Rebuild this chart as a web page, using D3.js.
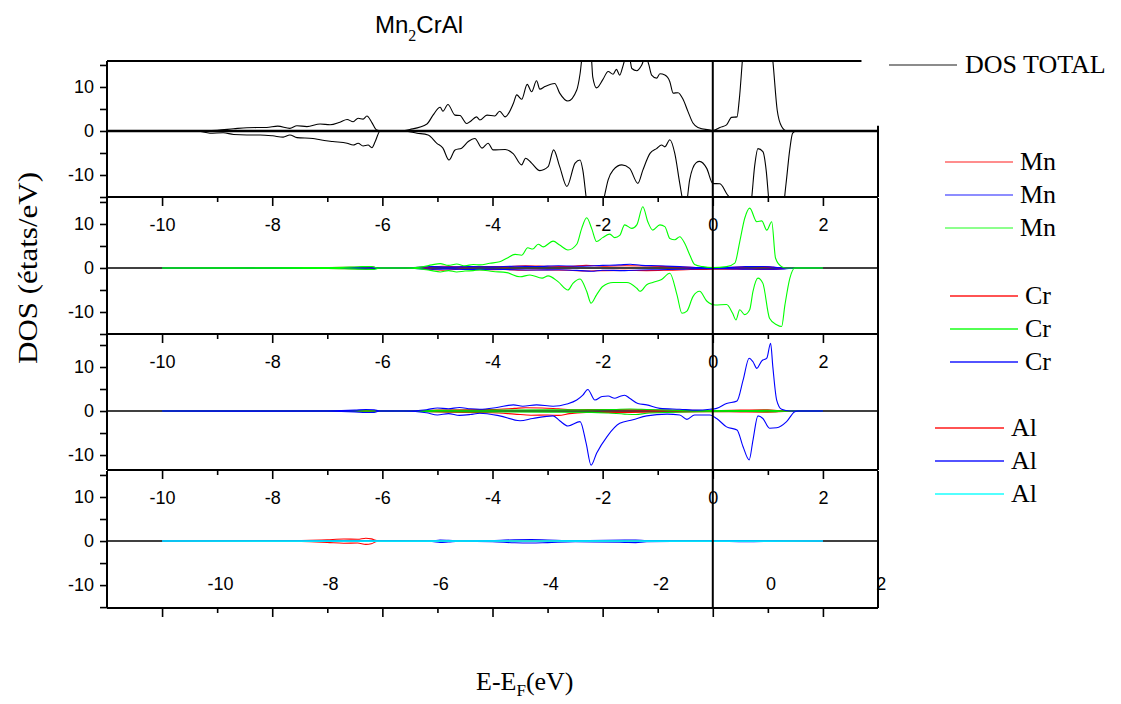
<!DOCTYPE html>
<html>
<head>
<meta charset="utf-8">
<script src="https://cdn.jsdelivr.net/npm/d3@7"></script>
<style>
  body { margin: 0; background: #fff; }
  svg { display: block; }
</style>
</head>
<body>
<svg id="chart" width="1121" height="704"></svg>
<script>
// ---- axis values ----
const energyLabels = [-10, -8, -6, -4, -2, 0, 2];
const energyMinor = [-9, -7, -5, -3, -1, 1];
const dosTicks = [-15, -10, -5, 0, 5, 10, 15];
const dosLabels = [-10, 0, 10];
// visible DOS window of each stacked frame (total, Mn, Cr, Al)
const dosWindows = [[-15, 15.9], [-15, 15.9], [-13.4, 17.5], [-15.2, 15.9]];

// ---- total DOS (spin up / spin down), [E - EF, states/eV] ----
const totalUp = [[-10,0],[-9.4,0],[-9.0,0.15],[-8.7,0.5],[-8.46,0.75],[-8.1,0.8],[-7.9,1.1],[-7.68,0.6],[-7.55,1.2],[-7.37,1.0],[-7.13,1.6],[-6.95,1.4],[-6.77,2.0],[-6.64,2.6],[-6.53,2.1],[-6.44,2.9],[-6.35,2.7],[-6.28,3.4],[-6.19,1.9],[-6.1,0.2],[-6.0,0],[-5.68,0],[-5.5,0.35],[-5.19,1.6],[-5.08,3.6],[-4.95,5.4],[-4.9,4.5],[-4.81,6.0],[-4.68,3.6],[-4.59,3.5],[-4.47,1.7],[-4.41,2.1],[-4.29,3.2],[-4.23,2.5],[-4.1,3.6],[-3.96,3.4],[-3.87,4.5],[-3.77,3.2],[-3.62,6.3],[-3.56,8.2],[-3.47,7.2],[-3.37,10.6],[-3.29,8.9],[-3.2,11.4],[-3.14,9.5],[-3.05,10.1],[-2.87,10.8],[-2.78,8.6],[-2.63,6.8],[-2.47,9.3],[-2.41,13],[-2.33,22],[-2.27,24],[-2.2,16],[-2.18,12.3],[-2.11,9.8],[-2.0,11.6],[-1.9,13.5],[-1.81,12.9],[-1.75,14.0],[-1.69,12.7],[-1.63,14.8],[-1.56,17.5],[-1.5,16],[-1.47,14.2],[-1.38,13.7],[-1.29,15],[-1.22,17],[-1.16,15],[-1.11,12.7],[-1.02,12.0],[-0.96,13],[-0.87,12.7],[-0.78,11.2],[-0.72,8.6],[-0.63,8.7],[-0.54,7.2],[-0.45,4.4],[-0.36,1.8],[-0.27,0.8],[-0.05,0.2],[0,0.1],[0.13,0.8],[0.25,1.4],[0.34,3.1],[0.44,3.2],[0.48,7],[0.55,18],[0.65,30],[0.85,32],[1.0,25],[1.09,16],[1.17,4.7],[1.25,1.0],[1.34,0],[2,0]];
const totalDown = [[-10,0],[-9.37,0],[-9.13,-0.5],[-8.89,-0.4],[-8.7,-0.8],[-8.46,-0.9],[-8.22,-0.9],[-7.99,-1.1],[-7.8,-1.4],[-7.68,-0.9],[-7.55,-1.5],[-7.26,-1.7],[-7.13,-2.0],[-6.9,-2.4],[-6.64,-2.8],[-6.53,-3.2],[-6.44,-2.8],[-6.35,-3.4],[-6.26,-3.2],[-6.19,-3.8],[-6.13,-2.4],[-6.04,0],[-5.63,0],[-5.37,-0.5],[-5.17,-0.9],[-5.01,-2.8],[-4.9,-3.9],[-4.79,-6.6],[-4.68,-4.3],[-4.56,-3.9],[-4.44,-2.4],[-4.32,-1.7],[-4.19,-3.9],[-4.08,-2.8],[-3.99,-4.3],[-3.77,-4.2],[-3.62,-5.2],[-3.47,-7.7],[-3.4,-6.2],[-3.29,-7.3],[-3.14,-9.0],[-2.99,-8.1],[-2.89,-4.3],[-2.78,-8.1],[-2.65,-12.6],[-2.5,-7.3],[-2.41,-6.6],[-2.36,-8.9],[-2.29,-16],[-2.2,-22],[-2.05,-20],[-1.97,-15],[-1.9,-11.1],[-1.81,-8.9],[-1.65,-7.7],[-1.51,-8.5],[-1.36,-11.9],[-1.27,-8.9],[-1.14,-5.1],[-1.02,-4.0],[-0.93,-3.2],[-0.87,-3.6],[-0.78,-2.0],[-0.69,-5.1],[-0.6,-11.9],[-0.54,-16],[-0.49,-17],[-0.42,-11.1],[-0.3,-7.2],[-0.24,-6.9],[-0.11,-8.5],[0,-11.9],[0.13,-12.0],[0.25,-14.2],[0.34,-16],[0.45,-22],[0.6,-22],[0.7,-16],[0.76,-8],[0.82,-4.0],[0.91,-4.7],[0.97,-9],[1.02,-16],[1.1,-22],[1.25,-20],[1.33,-12],[1.4,-4],[1.45,-0.5],[1.52,0],[2,0]];

// ---- Mn partial DOS ----
const mnRedUp = [[-10,0],[-7.5,0.05],[-6.5,0.15],[-6.2,0.25],[-6.05,0],[-5.6,0],[-5.2,0.2],[-4.9,0.4],[-4.6,0.25],[-4.2,0.35],[-3.8,0.3],[-3.4,0.5],[-3.0,0.4],[-2.6,0.35],[-2.3,0.6],[-2.0,0.4],[-1.6,0.5],[-1.2,0.45],[-0.8,0.3],[-0.4,0.15],[0,0.05],[0.5,0.2],[0.7,0.35],[1.0,0.25],[1.25,0],[2,0]];
const mnRedDown = [[-10,0],[-7.5,-0.05],[-6.5,-0.15],[-6.2,-0.25],[-6.05,0],[-5.6,0],[-5.2,-0.2],[-4.9,-0.5],[-4.6,-0.3],[-4.2,-0.4],[-3.8,-0.35],[-3.4,-0.5],[-3.0,-0.45],[-2.6,-0.5],[-2.3,-0.7],[-2.0,-0.6],[-1.6,-0.55],[-1.2,-0.6],[-0.8,-0.5],[-0.4,-0.35],[0,-0.3],[0.4,-0.25],[0.7,-0.3],[1.1,-0.35],[1.4,-0.05],[1.5,0],[2,0]];
const mnBlueUp = [[-10,0],[-6.5,0.1],[-6.2,0.2],[-6.05,0],[-5.6,0],[-5.1,0.3],[-4.8,0.2],[-4.4,0.3],[-4.0,0.25],[-3.6,0.4],[-3.2,0.35],[-2.8,0.5],[-2.4,0.4],[-2.0,0.6],[-1.7,0.7],[-1.5,0.85],[-1.3,0.6],[-1.0,0.5],[-0.6,0.3],[-0.2,0.1],[0.2,0.1],[0.6,0.3],[0.9,0.35],[1.1,0.2],[1.3,0],[2,0]];
const mnBlueDown = [[-10,0],[-6.5,-0.1],[-6.2,-0.2],[-6.05,0],[-5.6,0],[-5.1,-0.3],[-4.8,-0.2],[-4.4,-0.35],[-4.0,-0.3],[-3.6,-0.4],[-3.2,-0.45],[-2.8,-0.4],[-2.4,-0.6],[-2.2,-0.75],[-2.0,-0.5],[-1.6,-0.6],[-1.3,-0.45],[-1.0,-0.4],[-0.6,-0.3],[-0.2,-0.15],[0.2,-0.15],[0.6,-0.25],[1.0,-0.3],[1.3,-0.2],[1.5,0],[2,0]];
const mnGreenUp = [[-10,0],[-8,0.05],[-7,0.1],[-6.6,0.2],[-6.35,0.3],[-6.2,0.35],[-6.08,0],[-5.6,0],[-5.3,0.2],[-5.1,0.7],[-4.95,1.0],[-4.8,0.6],[-4.65,0.9],[-4.5,0.5],[-4.35,0.8],[-4.23,0.7],[-4.05,1.06],[-3.87,1.4],[-3.74,2.2],[-3.59,3.1],[-3.47,2.9],[-3.36,4.6],[-3.27,4.3],[-3.17,5.4],[-3.08,4.8],[-2.9,6.1],[-2.78,5.2],[-2.63,4.1],[-2.47,5.4],[-2.38,9.0],[-2.29,11.4],[-2.2,9.0],[-2.11,6.0],[-2.0,6.9],[-1.87,7.7],[-1.78,6.9],[-1.69,7.4],[-1.6,9.8],[-1.47,9.0],[-1.38,9.8],[-1.27,13.9],[-1.18,10.5],[-1.09,8.6],[-0.96,9.8],[-0.87,9.4],[-0.78,6.7],[-0.69,6.4],[-0.6,7.1],[-0.51,5.6],[-0.42,3.0],[-0.33,0.8],[-0.18,0.3],[0,0.1],[0.25,0.3],[0.4,1.1],[0.49,6.0],[0.58,11.3],[0.67,13.6],[0.8,10.5],[0.89,10.7],[0.98,8.6],[1.07,10.5],[1.14,2.2],[1.25,0.3],[1.34,0],[2,0]];
const mnGreenDown = [[-10,0],[-7,-0.1],[-6.6,-0.2],[-6.3,-0.3],[-6.15,-0.35],[-6.05,0],[-5.6,0],[-5.3,-0.2],[-5.1,-0.6],[-4.95,-0.9],[-4.8,-0.6],[-4.65,-0.9],[-4.5,-0.7],[-4.35,-0.6],[-4.23,-0.45],[-3.99,-0.8],[-3.74,-1.06],[-3.5,-2.0],[-3.32,-1.6],[-3.1,-2.3],[-2.99,-1.8],[-2.81,-3.1],[-2.63,-5.0],[-2.54,-3.5],[-2.41,-2.5],[-2.29,-5.3],[-2.21,-8.0],[-2.11,-6.1],[-2.0,-4.2],[-1.81,-3.3],[-1.56,-3.3],[-1.38,-4.6],[-1.32,-5.3],[-1.2,-3.8],[-1.09,-3.3],[-0.93,-2.6],[-0.78,-1.2],[-0.65,-6.1],[-0.56,-10.3],[-0.47,-9.8],[-0.36,-6.5],[-0.24,-5.3],[-0.11,-7.5],[0.04,-8.4],[0.25,-8.3],[0.36,-10.3],[0.42,-11.8],[0.49,-9.5],[0.58,-10.6],[0.67,-9.5],[0.73,-5.3],[0.82,-2.3],[0.91,-3.5],[1.03,-11.4],[1.16,-12.9],[1.25,-13.3],[1.31,-8.4],[1.4,-2.3],[1.49,0],[2,0]];

// ---- Cr partial DOS ----
const crRedUp = [[-10,0],[-6.5,0.05],[-5.6,0],[-5.0,0.2],[-4.5,0.3],[-4.0,0.35],[-3.6,0.6],[-3.4,0.75],[-3.1,0.7],[-2.8,0.5],[-2.5,0.3],[-2.0,0.35],[-1.5,0.3],[-1.0,0.2],[-0.5,0.15],[0,0.1],[0.5,0.2],[1.0,0.3],[1.2,0.1],[1.4,0],[2,0]];
const crRedDown = [[-10,0],[-6.5,-0.05],[-5.6,0],[-5.0,-0.2],[-4.5,-0.35],[-4.0,-0.4],[-3.6,-0.7],[-3.3,-0.95],[-3.0,-0.9],[-2.8,-1.0],[-2.6,-0.6],[-2.3,-0.35],[-2.0,-0.3],[-1.5,-0.3],[-1.0,-0.25],[-0.5,-0.2],[0,-0.15],[0.5,-0.2],[1.0,-0.25],[1.3,-0.1],[1.5,0],[2,0]];
const crGreenUp = [[-10,0],[-5.6,0],[-5.0,0.15],[-4.0,0.2],[-3.0,0.25],[-2.2,0.3],[-1.8,0.35],[-1.5,0.45],[-1.2,0.35],[-0.8,0.2],[-0.3,0.1],[0.5,0.1],[1.0,0.15],[1.4,0],[2,0]];
const crGreenDown = [[-10,0],[-5.6,0],[-5.0,-0.15],[-4.0,-0.2],[-3.0,-0.25],[-2.2,-0.3],[-1.9,-0.45],[-1.6,-0.7],[-1.4,-0.8],[-1.2,-0.5],[-0.8,-0.3],[-0.3,-0.15],[0.5,-0.1],[1.0,-0.15],[1.4,0],[2,0]];
const crBlueUp = [[-10,0],[-7,0.05],[-6.5,0.2],[-6.3,0.35],[-6.15,0.3],[-6.05,0],[-5.6,0],[-5.2,0.3],[-5.0,0.7],[-4.8,0.5],[-4.6,0.8],[-4.4,0.5],[-4.23,0.4],[-3.92,0.8],[-3.62,1.4],[-3.45,1.1],[-3.2,1.4],[-2.9,1.1],[-2.65,1.6],[-2.47,2.5],[-2.36,3.6],[-2.27,4.9],[-2.14,2.5],[-2.01,3.3],[-1.9,3.4],[-1.78,2.9],[-1.69,3.3],[-1.6,3.6],[-1.51,2.9],[-1.36,1.7],[-1.2,1.4],[-0.96,0.6],[-0.6,0.4],[-0.29,0.2],[-0.05,0.4],[0.07,0.6],[0.25,1.7],[0.44,2.3],[0.55,7.0],[0.66,12.0],[0.73,11.2],[0.8,9.7],[0.89,11.4],[0.98,12.0],[1.05,15.4],[1.09,10.1],[1.16,2.5],[1.25,0.4],[1.4,0],[2,0]];
const crBlueDown = [[-10,0],[-7,-0.05],[-6.5,-0.2],[-6.3,-0.35],[-6.15,-0.3],[-6.05,0],[-5.6,0],[-5.2,-0.4],[-5.0,-0.9],[-4.8,-0.6],[-4.6,-1.0],[-4.4,-0.8],[-4.23,-0.5],[-3.87,-1.1],[-3.5,-2.2],[-3.27,-1.7],[-2.9,-1.1],[-2.78,-2.2],[-2.63,-3.4],[-2.41,-2.4],[-2.3,-7.3],[-2.21,-12.3],[-2.11,-9.6],[-1.92,-5.8],[-1.69,-2.8],[-1.45,-2.0],[-1.2,-1.1],[-0.83,-0.7],[-0.6,-0.9],[-0.47,-1.9],[-0.33,-0.9],[-0.05,-0.9],[0.07,-1.7],[0.25,-3.6],[0.44,-4.3],[0.55,-8.1],[0.66,-11.1],[0.73,-6.6],[0.82,-1.1],[0.91,-1.7],[1.03,-3.9],[1.16,-3.8],[1.34,-2.4],[1.49,-0.15],[1.55,0],[2,0]];

// ---- Al partial DOS ----
const alRedUp = [[-10,0],[-8.5,0],[-7.8,0.05],[-7.3,0.15],[-7.0,0.3],[-6.7,0.45],[-6.45,0.4],[-6.3,0.65],[-6.2,0.5],[-6.1,0.1],[-6.0,0],[-5.5,0],[-5.0,0.05],[-3.5,0.1],[-2.0,0.05],[0,0.02],[2,0]];
const alRedDown = [[-10,0],[-8.5,0],[-7.8,-0.05],[-7.3,-0.15],[-7.0,-0.3],[-6.7,-0.5],[-6.45,-0.45],[-6.3,-0.75],[-6.2,-0.6],[-6.1,-0.1],[-6.0,0],[-5.5,0],[-5.0,-0.05],[-3.5,-0.1],[-2.0,-0.05],[0,-0.02],[2,0]];
const alBlueUp = [[-10,0],[-6,0],[-5.1,0.05],[-4.95,0.2],[-4.8,0.15],[-4.6,0.05],[-4.0,0.1],[-3.6,0.3],[-3.3,0.35],[-3.0,0.25],[-2.5,0.1],[-1.6,0.2],[-1.4,0.25],[-1.2,0.1],[0,0.05],[0.6,0.1],[1.2,0.05],[1.4,0],[2,0]];
const alBlueDown = [[-10,0],[-6,0],[-5.1,-0.1],[-4.95,-0.3],[-4.8,-0.2],[-4.6,-0.05],[-4.0,-0.15],[-3.6,-0.4],[-3.3,-0.45],[-3.0,-0.35],[-2.5,-0.15],[-1.6,-0.3],[-1.4,-0.35],[-1.2,-0.15],[0,-0.05],[0.6,-0.15],[1.2,-0.05],[1.4,0],[2,0]];
const alCyanUp = [[-10,0],[-6,0.02],[-4,0.05],[-2,0.04],[0,0.02],[2,0]];
const alCyanDown = [[-10,0],[-6,-0.02],[-4,-0.05],[-2,-0.04],[0,-0.02],[2,0]];

// ---- legend entries ----
const legendGroups = [
  { names: ["DOS TOTAL"], colors: ["#000000"] },
  { names: ["Mn", "Mn", "Mn"], colors: ["#ff0000", "#0000ff", "#00ff00"] },
  { names: ["Cr", "Cr", "Cr"], colors: ["#ff0000", "#00ff00", "#0000ff"] },
  { names: ["Al", "Al", "Al"], colors: ["#ff0000", "#0000ff", "#00ffff"] }
];

// ---------------------------------------------------------------
const svg = d3.select("#chart");
const SANS = "'Liberation Sans', Arial, sans-serif";
const SERIF = "'Liberation Serif', 'Times New Roman', serif";

const left = 107, right = 878;
const x = d3.scaleLinear().domain([-11, 3]).range([left, right]);

const frames = [
  { top: 61,  bottom: 197, series: [[totalUp, totalDown, "#000000"]] },
  { top: 198, bottom: 334, series: [[mnRedUp, mnRedDown, "#ff0000"], [mnBlueUp, mnBlueDown, "#0000ff"], [mnGreenUp, mnGreenDown, "#00ff00"]] },
  { top: 334, bottom: 470, series: [[crRedUp, crRedDown, "#ff0000"], [crGreenUp, crGreenDown, "#00e000"], [crBlueUp, crBlueDown, "#0000ff"]] },
  { top: 471, bottom: 608, series: [[alRedUp, alRedDown, "#ff0000"], [alBlueUp, alBlueDown, "#0000ff"], [alCyanUp, alCyanDown, "#00ffff"]] }
];

const defs = svg.append("defs");

frames.forEach((f, i) => {
  f.y = d3.scaleLinear().domain(dosWindows[i]).range([f.bottom, f.top]);
  defs.append("clipPath").attr("id", "clip" + i)
    .append("rect").attr("x", left).attr("y", f.top)
    .attr("width", right - left).attr("height", f.bottom - f.top);
});

const line = d3.line().curve(d3.curveMonotoneX);

frames.forEach((f, i) => {
  const g = svg.append("g");
  const y = f.y;

  // zero reference line
  g.append("line")
    .attr("x1", left).attr("x2", right)
    .attr("y1", y(0)).attr("y2", y(0))
    .attr("stroke", "#000").attr("stroke-width", i === 0 ? 2.5 : 1.6);

  // spin-up and spin-down curves
  const curves = g.append("g").attr("clip-path", `url(#clip${i})`);
  f.series.forEach(([up, down, color]) => {
    [up, down].forEach(d => {
      curves.append("path")
        .attr("d", line.x(p => x(p[0])).y(p => y(p[1]))(d))
        .attr("fill", "none").attr("stroke", color).attr("stroke-width", 1.1);
    });
  });

  // left DOS axis
  const yAxis = d3.axisLeft(y)
    .tickValues(dosTicks.filter(v => v >= dosWindows[i][0] && v <= dosWindows[i][1]))
    .tickSize(7).tickPadding(6)
    .tickFormat(v => dosLabels.includes(v) ? String(v) : "");
  const ya = g.append("g").attr("transform", `translate(${left},0)`).call(yAxis);
  ya.select(".domain").remove();
  ya.selectAll("line").attr("stroke", "#000").attr("stroke-width", 1.6);
  ya.selectAll("text").attr("font-family", SANS).attr("font-size", 18).attr("fill", "#000");

  // bottom energy axis of the frame (ticks point downward)
  const xMajor = d3.axisBottom(x).tickValues(energyLabels).tickSize(9).tickPadding(12)
    .tickFormat(v => i < 3 ? String(v) : "");
  const xa = g.append("g").attr("transform", `translate(0,${f.bottom})`).call(xMajor);
  xa.select(".domain").remove();
  xa.selectAll("line").attr("stroke", "#000").attr("stroke-width", 1.6);
  xa.selectAll("text").attr("font-family", SANS).attr("font-size", 18).attr("fill", "#000");

  const xMinor = d3.axisBottom(x).tickValues(energyMinor).tickSize(5).tickFormat("");
  const xm = g.append("g").attr("transform", `translate(0,${f.bottom})`).call(xMinor);
  xm.select(".domain").remove();
  xm.selectAll("line").attr("stroke", "#000").attr("stroke-width", 1.6);

  // frame borders
  const border = (x1, y1, x2, y2) => {
    g.append("line").attr("x1", x1).attr("y1", y1).attr("x2", x2).attr("y2", y2)
      .attr("stroke", "#000").attr("stroke-width", 2);
  };
  border(left, f.top, left, f.bottom);
  border(left, f.bottom, right, f.bottom);
  if (i === 0) {
    border(left, f.top, x(2.7), f.top);
    border(right, f.y(1.2), right, f.bottom);
  } else {
    border(right, f.top, right, f.bottom);
  }
});

// second label row drawn inside the lowest frame, offset by one eV
const xShift = d3.scaleLinear().domain([-12.05, 1.95]).range([left, right]);
const xs = svg.append("g").attr("transform", `translate(0,${frames[3].y(-8.3)})`)
  .call(d3.axisBottom(xShift).tickValues(energyLabels).tickSize(0).tickPadding(0).tickFormat(v => String(v)));
xs.select(".domain").remove();
xs.selectAll("text").attr("font-family", SANS).attr("font-size", 18).attr("fill", "#000");

// Fermi level marker through all frames
svg.append("line")
  .attr("x1", x(0)).attr("x2", x(0))
  .attr("y1", frames[0].top).attr("y2", frames[3].bottom)
  .attr("stroke", "#000").attr("stroke-width", 2);

// title
const title = svg.append("text").attr("x", 375).attr("y", 33)
  .attr("font-family", SANS).attr("font-size", 24).attr("fill", "#000");
title.append("tspan").text("Mn");
title.append("tspan").attr("font-family", SERIF).attr("font-size", 16).attr("dy", 8).text("2");
title.append("tspan").attr("dy", -8).text("CrAl");

// axis titles
svg.append("text")
  .attr("transform", "translate(37,268) rotate(-90)")
  .attr("text-anchor", "middle")
  .attr("font-family", SERIF).attr("font-size", 27).attr("fill", "#000")
  .attr("textLength", 192).attr("lengthAdjust", "spacingAndGlyphs")
  .text("DOS (états/eV)");

const xt = svg.append("text").attr("x", 476).attr("y", 690)
  .attr("font-family", SERIF).attr("font-size", 26).attr("fill", "#000");
xt.append("tspan").text("E-E");
xt.append("tspan").attr("font-size", 17).attr("dy", 6).text("F");
xt.append("tspan").attr("dy", -6).text("(eV)");

// legend
const legendLayout = [
  { x1: 889, x2: 957, tx: 965, ys: [65] },
  { x1: 945, x2: 1013, tx: 1020, ys: [162, 195, 228] },
  { x1: 950, x2: 1018, tx: 1025, ys: [296, 329, 362] },
  { x1: 935, x2: 1004, tx: 1011, ys: [428, 461, 494] }
];
legendGroups.forEach((grp, gi) => {
  const L = legendLayout[gi];
  grp.names.forEach((name, k) => {
    const yy = L.ys[k];
    svg.append("line").attr("x1", L.x1).attr("x2", L.x2).attr("y1", yy).attr("y2", yy)
      .attr("stroke", grp.colors[k]).attr("stroke-width", gi === 0 ? 1 : 1.4)
      .attr("stroke-opacity", gi === 1 ? 0.6 : 0.9);
    svg.append("text").attr("x", L.tx).attr("y", yy + 8)
      .attr("font-family", SERIF).attr("font-size", 26).attr("fill", "#000")
      .text(name);
  });
});
</script>
</body>
</html>
